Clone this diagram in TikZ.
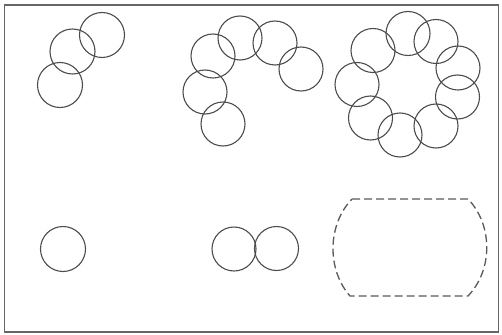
\documentclass[tikz,border=0pt]{standalone}
\begin{document}
\begin{tikzpicture}[x=1pt,y=-1pt,
  ring/.style={draw=black!70,line width=1.1pt},
  frame/.style={draw=black!60,line width=1.2pt},
  cutline/.style={draw=black!65,line width=1.3pt,dash pattern=on 8pt off 4pt}]
\useasboundingbox (0,0) rectangle (502,334);
\draw[frame] (4.5,5) rectangle (498.5,332);
% group 1
\foreach \x/\y in {60/85,72.5/51.5,102/35}
  \draw[ring] (\x,\y) circle (22.5);
% group 2
\foreach \x/\y in {240/38,275/43,301/69,213/56,205/92,223/124}
  \draw[ring] (\x,\y) circle (22);
% group 3 ring
\foreach \x/\y in {373/50.5,408/33.5,436/41.5,458/68,457.5/97,436/126,400/135,370.5/118,357/84.5}
  \draw[ring] (\x,\y) circle (22);
% bottom
\draw[ring] (63,249) circle (22.5);
\draw[ring] (234,249) circle (22);
\draw[ring] (276.5,248.5) circle (22);
\draw[cutline] (352,199) -- (468,199)
  .. controls (493,225) and (493,270) .. (468,296) -- (350,296)
  .. controls (327,270) and (327,225) .. (352,199);
\end{tikzpicture}
\end{document}
